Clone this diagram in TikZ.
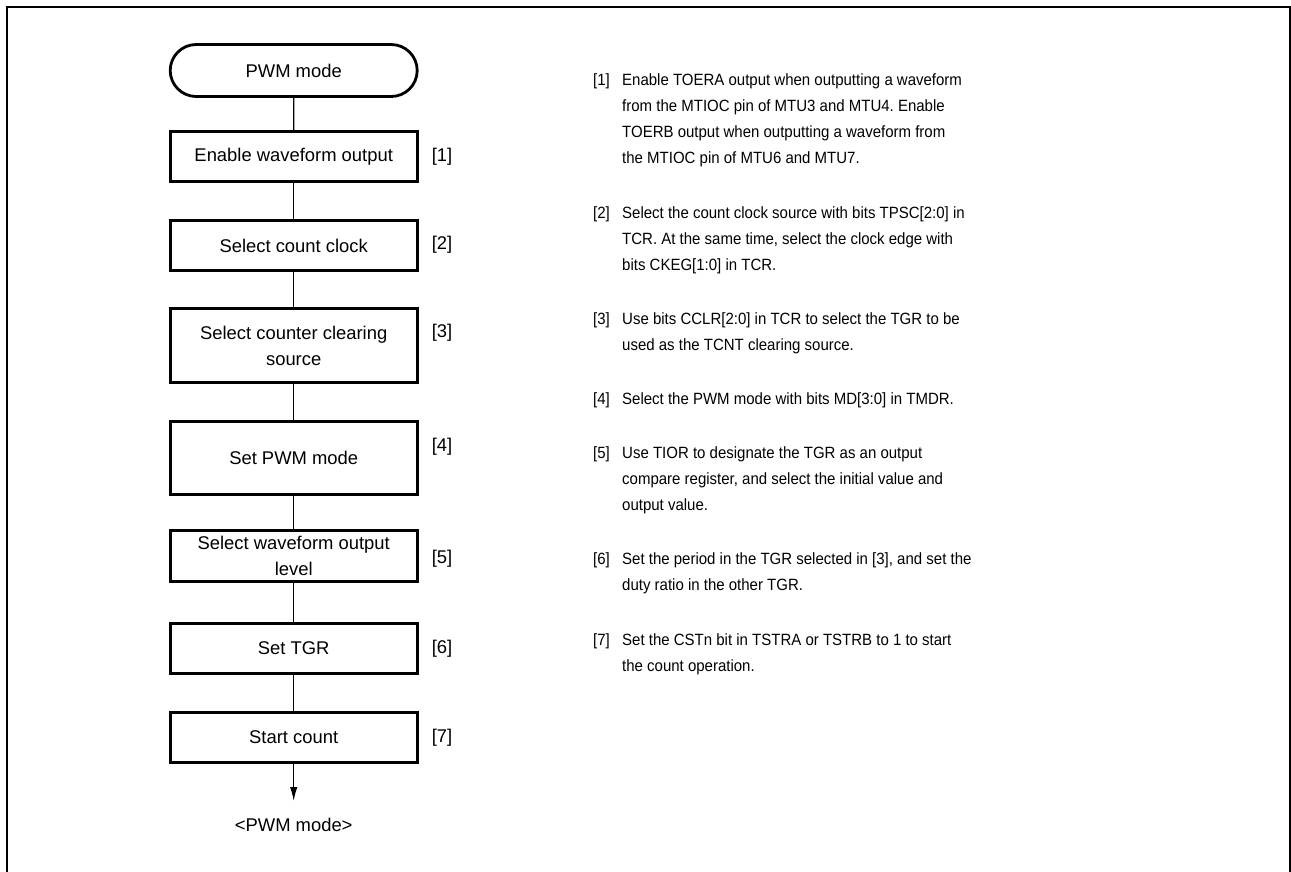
\documentclass[tikz,border=0pt]{standalone}
\usepackage{fontspec}
\setmainfont{Liberation Sans}
\newfontfamily\descfont[FakeStretch=0.92]{Liberation Sans}
\usetikzlibrary{arrows.meta,shapes.misc}
\frenchspacing
\tikzset{
  stepbox/.style={draw,line width=2.8pt,minimum width=247pt,inner sep=0pt,align=center,
    font=\fontsize{18.4}{26}\selectfont},
  termbox/.style={rounded rectangle,draw,line width=2.8pt,minimum width=247pt,minimum height=52pt,
    inner sep=0pt,font=\fontsize{18.4}{26}\selectfont},
  steplabel/.style={inner sep=0pt,font=\fontsize{18.4}{26}\selectfont},
  conn/.style={line width=1.3pt},
  desclabel/.style={anchor=north west,inner sep=0pt,font=\descfont\fontsize{16.3}{26.3}\selectfont},
  desctext/.style={anchor=north west,inner sep=0pt,align=left,font=\descfont\fontsize{16.3}{26.3}\selectfont\frenchspacing},
}
\begin{document}
\begin{tikzpicture}[x=1pt,y=-1pt]
\useasboundingbox (0,0) rectangle (1291,871);
% frame
\draw[line width=2.6pt] (7,880) -- (7,7) -- (1290,7) -- (1290,880);
% flowchart
\node[termbox] (term) at (293.7,70.5) {PWM mode};
\node[stepbox,minimum height=50pt] (b1) at (293.7,156.5) {Enable waveform output};
\node[stepbox,minimum height=50pt] (b2) at (293.7,245.5) {Select count clock};
\node[stepbox,minimum height=74pt] (b3) at (293.7,345.5) {Select counter clearing\\source};
\node[stepbox,minimum height=73pt] (b4) at (293.7,458) {Set PWM mode};
\node[stepbox,minimum height=51pt] (b5) at (293.7,556) {Select waveform output\\level};
\node[stepbox,minimum height=50pt] (b6) at (293.7,648.5) {Set TGR};
\node[stepbox,minimum height=50pt] (b7) at (293.7,737.5) {Start count};
\coordinate (tip) at (293.7,801);
\node[steplabel] (endtxt) at (293.7,825) {<PWM mode>};
\draw[conn] (term) -- (b1);
\draw[conn] (b1) -- (b2);
\draw[conn] (b2) -- (b3);
\draw[conn] (b3) -- (b4);
\draw[conn] (b4) -- (b5);
\draw[conn] (b5) -- (b6);
\draw[conn] (b6) -- (b7);
\draw[conn,-{Latex[length=14pt,width=7.5pt]}] (b7) -- (tip);
% step labels
\node[steplabel] (l1) at (442,157) {[1]};
\node[steplabel] (l2) at (442,245) {[2]};
\node[steplabel] (l3) at (442,333) {[3]};
\node[steplabel] (l4) at (442,447) {[4]};
\node[steplabel] (l5) at (442,559) {[5]};
\node[steplabel] (l6) at (442,649) {[6]};
\node[steplabel] (l7) at (442,738) {[7]};
% descriptions
\node[desclabel] (d1n) at (593,73) {[1]};
\node[desctext] (d1) at (622,73) {Enable TOERA output when outputting a waveform\\from the MTIOC pin of MTU3 and MTU4. Enable\\TOERB output when outputting a waveform from\\the MTIOC pin of MTU6 and MTU7.};
\node[desclabel] (d2n) at (593,206) {[2]};
\node[desctext] (d2) at (622,206) {Select the count clock source with bits TPSC[2:0] in\\TCR. At the same time, select the clock edge with\\bits CKEG[1:0] in TCR.};
\node[desclabel] (d3n) at (593,312) {[3]};
\node[desctext] (d3) at (622,312) {Use bits CCLR[2:0] in TCR to select the TGR to be\\used as the TCNT clearing source.};
\node[desclabel] (d4n) at (593,392) {[4]};
\node[desctext] (d4) at (622,392) {Select the PWM mode with bits MD[3:0] in TMDR.};
\node[desclabel] (d5n) at (593,446) {[5]};
\node[desctext] (d5) at (622,446) {Use TIOR to designate the TGR as an output\\compare register, and select the initial value and\\output value.};
\node[desclabel] (d6n) at (593,552) {[6]};
\node[desctext] (d6) at (622,552) {Set the period in the TGR selected in [3], and set the\\duty ratio in the other TGR.};
\node[desclabel] (d7n) at (593,633) {[7]};
\node[desctext] (d7) at (622,633) {Set the CSTn bit in TSTRA or TSTRB to 1 to start\\the count operation.};
\end{tikzpicture}
\end{document}
